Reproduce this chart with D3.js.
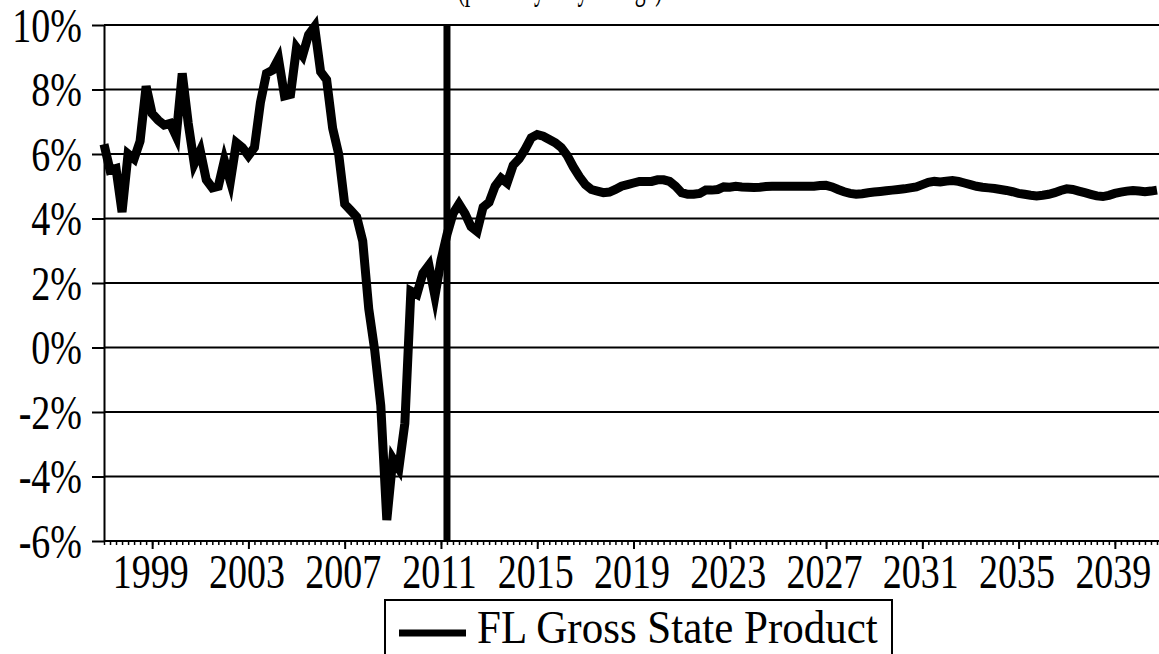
<!DOCTYPE html>
<html>
<head>
<meta charset="utf-8">
<script src="https://cdn.jsdelivr.net/npm/d3@7"></script>
<style>
  html, body { margin: 0; padding: 0; background: #fff; }
  #chart { width: 1159px; height: 654px; overflow: hidden; }
  text { font-family: "Liberation Serif", "Times New Roman", serif; fill: #000; }
</style>
</head>
<body>
<div id="chart"></div>
<script>
// quarterly growth, 1997 Q1 .. 2040 Q4 (percent yearly change)
const startYear = 1997;
const gspHistory = [
  6.3, 5.5, 5.55, 4.2, 6.0, 5.85, 6.4, 8.1, 7.25, 7.05, 6.9, 6.95,
  6.55, 8.5, 6.95, 5.7, 6.1, 5.2, 4.95, 5.0, 5.8, 5.15, 6.35, 6.2,
  5.95, 6.2, 7.6, 8.5, 8.6, 8.95, 7.8, 7.85, 9.3, 9.05, 9.7, 9.95,
  8.55, 8.3, 6.8, 6.0, 4.45, 4.25, 4.05, 3.3, 1.2, -0.1, -1.8, -5.35,
  -3.45, -3.75, -2.35, 1.75, 1.65, 2.3, 2.55, 1.6, 2.7, 3.5
];
const gspForecast = [
  4.15, 4.45, 4.15, 3.75, 3.6, 4.35, 4.5, 5.0, 5.25, 5.1, 5.65, 5.85,
  6.15, 6.5, 6.6, 6.55, 6.45, 6.35, 6.2, 5.95, 5.6, 5.3, 5.05, 4.9,
  4.85, 4.8, 4.82, 4.9, 5.0, 5.05, 5.1, 5.15, 5.15, 5.15, 5.2, 5.2,
  5.15, 5.0, 4.8, 4.75, 4.75, 4.78, 4.88, 4.88, 4.9, 4.98, 4.97, 5.0,
  4.98, 4.97, 4.96, 4.97, 4.99, 5.0, 5.0, 5.0, 5.0, 5.0, 5.0, 5.0,
  5.0, 5.02, 5.03, 4.98, 4.9, 4.83, 4.78, 4.75, 4.77, 4.8, 4.82, 4.84,
  4.86, 4.88, 4.9, 4.92, 4.95, 4.98, 5.05, 5.12, 5.15, 5.13, 5.16, 5.18,
  5.15, 5.1, 5.05, 5.0, 4.97, 4.95, 4.93, 4.9, 4.87, 4.83, 4.78, 4.75,
  4.72, 4.7, 4.72, 4.75, 4.8, 4.87, 4.92, 4.9, 4.85, 4.8, 4.75, 4.7,
  4.68, 4.72, 4.78, 4.82, 4.85, 4.87, 4.85, 4.83, 4.85, 4.88
];
const forecastMark = 2011.25;
const yTicks = [10, 8, 6, 4, 2, 0, -2, -4, -6];
const xTickYears = [1999, 2003, 2007, 2011, 2015, 2019, 2023, 2027, 2031, 2035, 2039];
const seriesName = "FL Gross State Product";
const subtitle = "(percent yearly change)";

document.addEventListener('DOMContentLoaded', () => {
    const width = 1159, height = 654;
    const left = 104, right = 1163, top = 25, bottom = 541;

    const values = gspHistory.concat(gspForecast);
    const data = values.map((v, i) => ({ t: startYear + i / 4, v: v }));

    const x = d3.scaleLinear().domain([1997, 2041]).range([left, right]);
    const y = d3.scaleLinear().domain([-6, 10]).range([bottom, top]);

    const svg = d3.select('#chart').append('svg')
        .attr('width', width)
        .attr('height', height)
        .attr('viewBox', `0 0 ${width} ${height}`)
        .style('display', 'block');

    // title remnant, mostly cropped off the top (as in the source picture)
    svg.append('text')
        .attr('transform', `translate(560,-1) scale(1,1.25)`)
        .attr('text-anchor', 'middle')
        .attr('font-size', 30)
        .attr('textLength', 205)
        .attr('lengthAdjust', 'spacingAndGlyphs')
        .text(subtitle);

    // horizontal grid lines
    svg.append('g')
        .selectAll('line')
        .data(yTicks)
        .enter().append('line')
        .attr('x1', left)
        .attr('x2', width)
        .attr('y1', d => y(d))
        .attr('y2', d => y(d))
        .attr('stroke', '#000')
        .attr('stroke-width', 2);

    // y axis
    const yAxis = svg.append('g')
        .attr('transform', `translate(${left},0)`)
        .call(d3.axisLeft(y).tickValues(yTicks).tickSize(12).tickSizeOuter(0)
            .tickFormat(d => d + '%'));
    yAxis.select('.domain').attr('stroke', '#000').attr('stroke-width', 2);
    yAxis.selectAll('.tick line').attr('stroke-width', 2);
    yAxis.selectAll('.tick text')
        .attr('x', null).attr('dy', null)
        .attr('font-size', 38)
        .attr('font-family', '"Liberation Serif", serif')
        .attr('transform', 'translate(-22,16) scale(1,1.25)');

    // x axis: quarterly minor ticks, labelled majors every 4 years
    const quarters = d3.range(0, 44 * 4 + 1).map(i => 1997 + i / 4);
    const minorAxis = svg.append('g')
        .attr('transform', `translate(0,${bottom})`)
        .call(d3.axisBottom(x).tickValues(quarters).tickSize(4).tickSizeOuter(0).tickFormat(''));
    minorAxis.select('.domain').remove();
    minorAxis.selectAll('.tick line').attr('stroke-width', 1.5);

    const majorAxis = svg.append('g')
        .attr('transform', `translate(0,${bottom})`)
        .call(d3.axisBottom(x).tickValues(xTickYears).tickSize(8).tickSizeOuter(0).tickFormat(d3.format('d')));
    majorAxis.select('.domain').remove();
    majorAxis.selectAll('.tick line').attr('stroke-width', 2);
    majorAxis.selectAll('.tick text')
        .attr('y', null).attr('dy', null)
        .attr('font-size', 38)
        .attr('font-family', '"Liberation Serif", serif')
        .attr('transform', 'translate(-2,47) scale(1,1.25)');

    // forecast divider
    svg.append('line')
        .attr('x1', x(forecastMark))
        .attr('x2', x(forecastMark))
        .attr('y1', top)
        .attr('y2', bottom)
        .attr('stroke', '#000')
        .attr('stroke-width', 7);

    // series
    const line = d3.line()
        .x(d => x(d.t))
        .y(d => y(d.v));

    svg.append('path')
        .datum(data)
        .attr('d', line)
        .attr('fill', 'none')
        .attr('stroke', '#000')
        .attr('stroke-width', 9)
        .attr('stroke-linejoin', 'miter')
        .attr('stroke-miterlimit', 6);

    // legend
    const legend = svg.append('g');
    legend.append('rect')
        .attr('x', 385).attr('y', 600)
        .attr('width', 507).attr('height', 70)
        .attr('fill', '#fff')
        .attr('stroke', '#000')
        .attr('stroke-width', 2);
    legend.append('line')
        .attr('x1', 399).attr('x2', 466)
        .attr('y1', 633).attr('y2', 633)
        .attr('stroke', '#000')
        .attr('stroke-width', 7);
    legend.append('text')
        .attr('transform', 'translate(477,643) scale(1,1.1)')
        .attr('font-size', 43)
        .text(seriesName);
});
</script>
</body>
</html>
